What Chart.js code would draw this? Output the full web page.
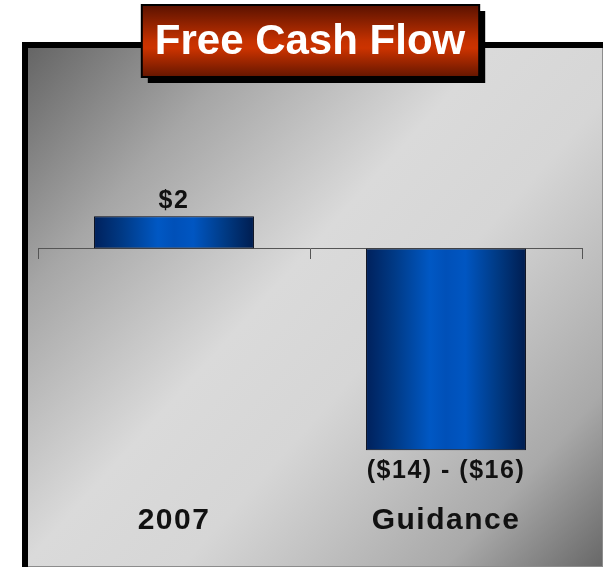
<!DOCTYPE html>
<html><head><meta charset="utf-8">
<script src="https://cdn.jsdelivr.net/npm/chart.js@4.4.1/dist/chart.umd.min.js"></script>
<style>html,body{margin:0;padding:0;background:#fff;}#wrap{width:606px;height:569px;position:relative}</style>
</head><body><div id="wrap"><canvas id="c" width="606" height="569"></canvas></div>
<script>
const categories = ['2007', 'Guidance'];
const freeCashFlow = [2.4, -15];
const valueLabels = ['$2', '($14) - ($16)'];
const chartTitle = 'Free Cash Flow';
const yMin = -18.1;
const yMax = 10;

const FONT = '"Liberation Sans", Arial, Helvetica, sans-serif';
const BAR_PCT = 0.588;

function barGradient(c) {
  const chart = c.chart;
  const xs = chart.scales.x;
  if (!xs || !chart.chartArea) return '#0050b8';
  const cx = xs.getPixelForValue(c.dataIndex);
  const half = (xs.width / categories.length) * BAR_PCT / 2;
  const g = chart.ctx.createLinearGradient(cx - half, 0, cx + half, 0);
  g.addColorStop(0, '#00215c');
  g.addColorStop(0.18, '#003a86');
  g.addColorStop(0.4, '#0058c4');
  g.addColorStop(0.5, '#0050b8');
  g.addColorStop(0.62, '#0056c2');
  g.addColorStop(0.82, '#003a84');
  g.addColorStop(1, '#001d50');
  return g;
}

const decor = {
  id: 'decor',
  beforeDraw(chart) {
    const ctx = chart.ctx;
    ctx.letterSpacing = '0px';
    ctx.save();
    const L = 22, T = 42, R = 603, B = 567;
    const g = ctx.createLinearGradient(L, T, R, B);
    g.addColorStop(0, '#626262');
    g.addColorStop(0.22, '#a6a6a6');
    g.addColorStop(0.45, '#dadada');
    g.addColorStop(0.6, '#d6d6d6');
    g.addColorStop(0.85, '#a9a9a9');
    g.addColorStop(1, '#676767');
    ctx.fillStyle = g;
    ctx.fillRect(L, T, R - L, B - T);
    ctx.strokeStyle = '#8c8c8c';
    ctx.lineWidth = 1;
    ctx.strokeRect(L + 0.5, T + 0.5, R - L - 1, B - T - 1);
    ctx.fillStyle = '#000';
    ctx.fillRect(L, T, 6, B - T);
    ctx.fillRect(L, T, R - L, 6);

    const tb = chart.titleBlock;
    ctx.font = 'bold 42px ' + FONT;
    const w = ctx.measureText(chartTitle).width;
    const cx = (tb.left + tb.right) / 2;
    const mid = tb.top + 21;
    const bx = cx - w / 2 - 13, by = mid - 37, bw = w + 27, bh = 72;
    ctx.fillStyle = '#000';
    ctx.fillRect(bx + 6, by + 6, bw, bh);
    const rg = ctx.createLinearGradient(0, by, 0, by + bh);
    rg.addColorStop(0, '#5a1200');
    rg.addColorStop(0.5, '#c43100');
    rg.addColorStop(0.6, '#cc3300');
    rg.addColorStop(1, '#641600');
    ctx.fillStyle = rg;
    ctx.fillRect(bx, by, bw, bh);
    ctx.lineWidth = 2;
    ctx.strokeStyle = '#000';
    ctx.strokeRect(bx, by, bw, bh);
    ctx.restore();
  },
  afterDatasetsDraw(chart) {
    const ctx = chart.ctx;
    const meta = chart.getDatasetMeta(0);
    ctx.save();
    ctx.letterSpacing = '1.5px';
    ctx.font = 'bold 25px ' + FONT;
    ctx.fillStyle = '#111';
    ctx.textAlign = 'center';
    ctx.textBaseline = 'alphabetic';
    meta.data.forEach((el, i) => {
      const v = freeCashFlow[i];
      const y = v >= 0 ? el.y - 8 : el.y + 28;
      ctx.fillText(valueLabels[i], el.x, y);
    });
    ctx.restore();
    ctx.letterSpacing = '1.5px';
  },
  afterDraw(chart) {
    chart.ctx.letterSpacing = '0px';
  }
};

new Chart(document.getElementById('c'), {
  type: 'bar',
  data: {
    labels: categories,
    datasets: [{
      data: freeCashFlow,
      xAxisID: 'x',
      yAxisID: 'y',
      backgroundColor: barGradient,
      borderColor: '#050a1a',
      borderWidth: 1,
      borderSkipped: false,
      barPercentage: BAR_PCT,
      categoryPercentage: 1
    }]
  },
  options: {
    responsive: false,
    animation: false,
    events: [],
    layout: { padding: { top: 21, left: 38, right: 24, bottom: 27 } },
    plugins: {
      legend: { display: false },
      tooltip: { enabled: false },
      title: {
        display: true,
        text: chartTitle,
        color: '#ffffff',
        font: { family: FONT, size: 42, weight: 'bold', lineHeight: 1 },
        padding: { top: 0, bottom: 51 }
      }
    },
    scales: {
      y: { display: false, min: yMin, max: yMax },
      x: {
        type: 'category',
        position: { y: 0 },
        offset: true,
        grid: { offset: true, drawOnChartArea: false, drawTicks: true, tickLength: 10, color: '#555555', lineWidth: 1 },
        border: { display: true, color: '#555555', width: 1 },
        ticks: { display: false }
      },
      x2: {
        type: 'category',
        position: 'bottom',
        offset: true,
        grid: { display: false },
        border: { display: false },
        ticks: { z: 1, padding: 3, color: '#111111', font: { family: FONT, size: 30, weight: 'bold', lineHeight: 1.2 } }
      }
    }
  },
  plugins: [decor]
});
</script>
</body></html>
